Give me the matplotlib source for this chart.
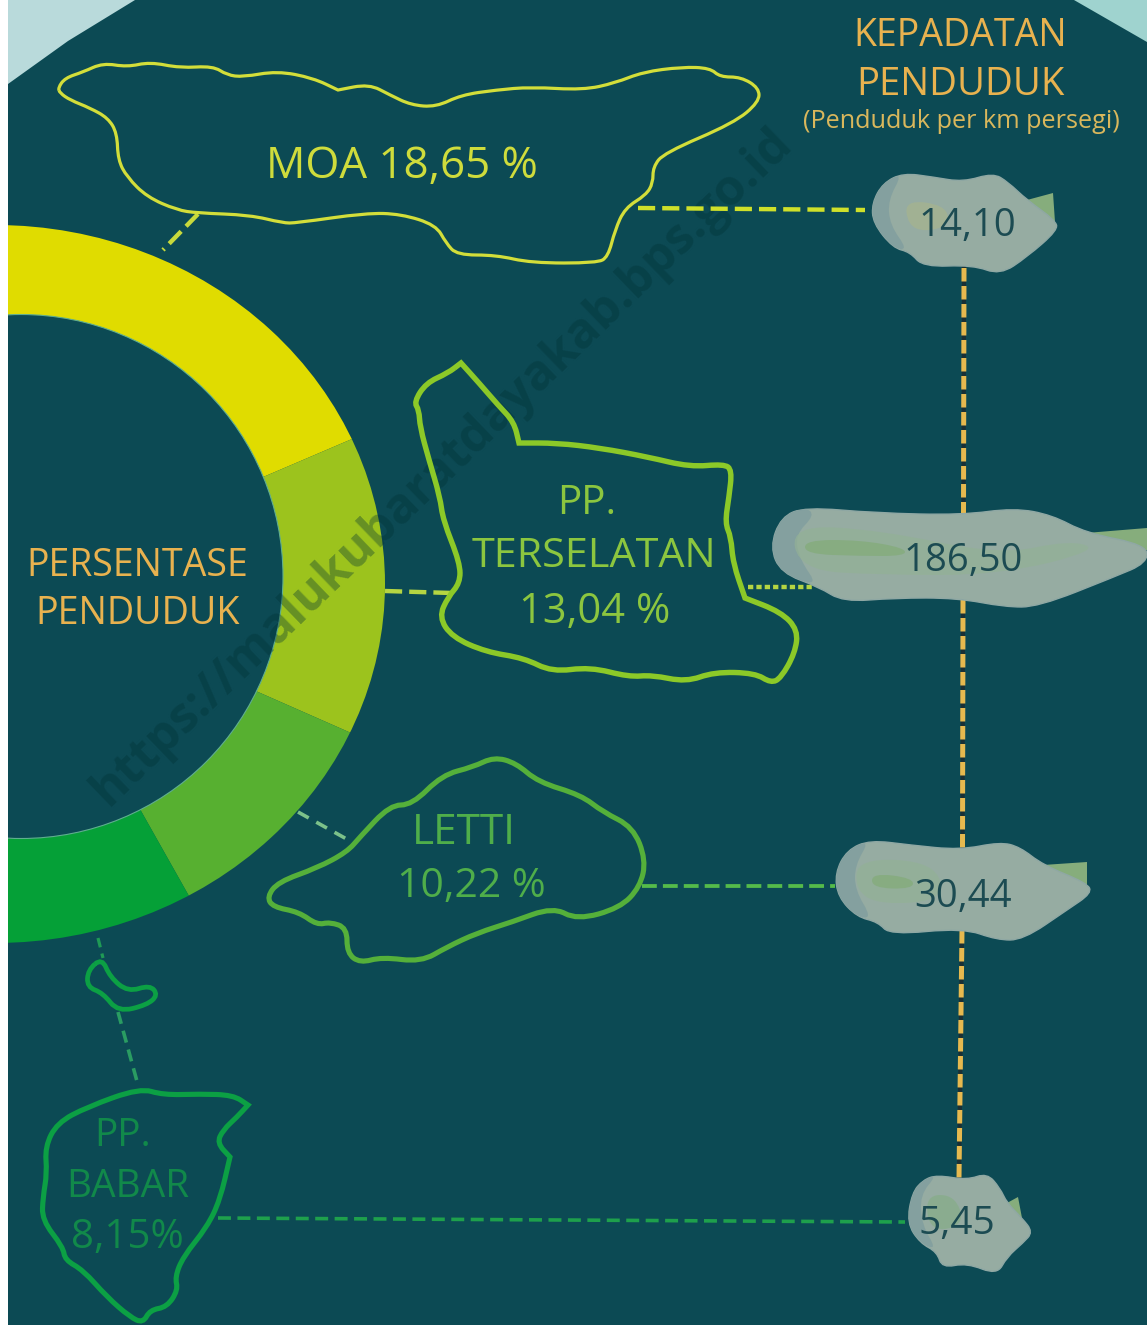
#!/usr/local/bin/python3
# -*- coding: utf-8 -*-
import matplotlib
matplotlib.use('Agg')
import matplotlib.pyplot as plt
from matplotlib.patches import Circle, Ellipse, PathPatch, Polygon, Rectangle, Wedge
from matplotlib.path import Path

plt.rcParams['font.family'] = ['Open Sans', 'DejaVu Sans']

# data
pct_labels = ['MOA', 'PP. TERSELATAN', 'LETTI', 'PP. BABAR']
pct_values = [18.65, 13.04, 10.22, 8.15]
pct_colors = ['#e0dc00', '#9cc31d', '#57b030', '#05a037']
dens_values = ['14,10', '186,50', '30,44', '5,45']

# island outlines, in pixels (repeated point = sharp corner)
moa_xy = [(58, 88), (65, 78), (83, 72), (103, 63), (127, 67), (150, 62), (180, 68), (213, 66), (227, 75), (243, 77),
          (277, 71), (313, 78), (338, 90), (338, 90), (369, 84), (390, 95), (411, 105), (436, 107), (461, 95),
          (496, 90), (531, 87), (583, 90), (615, 83), (643, 72), (682, 67), (710, 68), (720, 77), (741, 77), (759, 88),
          (759, 102), (734, 123), (664, 153), (653, 167), (653, 183), (646, 195), (625, 208), (615, 230), (608, 257),
          (597, 263), (531, 263), (496, 255), (457, 255), (446, 243), (436, 225), (401, 214), (366, 213), (296, 223),
          (283, 223), (250, 215), (197, 213), (177, 210), (147, 197), (127, 177), (118, 160), (117, 133), (108, 118),
          (90, 108), (70, 100), (60, 93)]
terselatan_xy = [(461, 363), (461, 363), (479, 383), (498, 405), (514, 422), (519, 443), (519, 443), (557, 443),
                 (600, 448), (648, 457), (690, 467), (724, 464), (732, 470), (729, 497), (725, 523), (731, 537),
                 (733, 563), (745, 598), (745, 598), (781, 612), (798, 630), (795, 653), (781, 678), (771, 683),
                 (755, 673), (714, 672), (686, 682), (652, 675), (629, 677), (590, 667), (552, 672), (524, 658),
                 (486, 652), (452, 637), (439, 617), (448, 597), (460, 583), (460, 563), (443, 520), (440, 497),
                 (429, 460), (420, 427), (419, 410), (414, 402), (426, 383), (448, 373)]
letti_xy = [(494, 757), (516, 763), (538, 782), (581, 795), (603, 812), (633, 827), (646, 860), (640, 887), (620, 908),
            (577, 920), (553, 907), (512, 922), (477, 933), (447, 947), (421, 962), (382, 957), (360, 963), (347, 953),
            (347, 928), (330, 922), (317, 925), (299, 912), (273, 907), (267, 897), (278, 882), (317, 868), (347, 852),
            (360, 837), (390, 805), (412, 805), (442, 775), (473, 767)]
babar_xy = [(140, 1088), (163, 1095), (200, 1094), (233, 1095), (248, 1105), (248, 1105), (237, 1117), (223, 1130),
            (217, 1143), (230, 1157), (230, 1157), (220, 1200), (207, 1227), (183, 1257), (175, 1277), (178, 1290),
            (167, 1307), (150, 1310), (143, 1323), (130, 1317), (107, 1297), (83, 1270), (65, 1260), (63, 1247),
            (42, 1220), (43, 1197), (47, 1173), (45, 1147), (57, 1123), (87, 1107)]
babar_small_xy = [(102, 958), (110, 977), (128, 992), (150, 985), (158, 995), (147, 1005), (118, 1012), (103, 993),
                  (87, 987), (88, 970)]

# density blobs
blob_moa = [(903, 173), (933, 177), (963, 182), (993, 173), (1008, 182), (1027, 200), (1055, 220), (1058, 230),
            (1027, 257), (1000, 275), (973, 265), (923, 267), (910, 252), (893, 248), (873, 223), (872, 203), (883, 183)]
blob_ters = [(805, 507), (876, 513), (962, 515), (1014, 508), (1052, 515), (1086, 533), (1147, 545), (1147, 563),
             (1114, 577), (1038, 607), (1005, 607), (957, 598), (895, 598), (843, 602), (819, 587), (781, 573),
             (770, 547), (781, 517)]
blob_letti = [(870, 840), (910, 845), (960, 850), (1000, 842), (1020, 847), (1043, 865), (1087, 883), (1092, 893),
              (1067, 910), (1023, 940), (997, 940), (963, 928), (890, 935), (878, 922), (857, 917), (838, 897),
              (835, 873), (847, 850)]
blob_babar = [(937, 1175), (967, 1180), (987, 1173), (1000, 1188), (1007, 1203), (1022, 1218), (1033, 1232),
              (1023, 1243), (1007, 1257), (997, 1275), (967, 1263), (942, 1268), (937, 1252), (920, 1243),
              (907, 1223), (912, 1193), (923, 1180)]
tail_moa = [(1027, 200), (1053, 193), (1055, 222)]
tail_ters = [(1086, 533), (1147, 528), (1147, 550), (1110, 560)]
tail_letti = [(1043, 865), (1087, 862), (1087, 885), (1060, 880)]
tail_babar = [(1007, 1203), (1018, 1197), (1022, 1218)]
left_moa = [(903, 173), (883, 183), (872, 203), (873, 223), (893, 248), (908, 250), (890, 225), (888, 200)]
left_ters = [(805, 507), (781, 517), (770, 547), (781, 573), (819, 587), (800, 560), (795, 535), (815, 515)]
left_letti = [(870, 840), (847, 850), (835, 873), (838, 897), (857, 917), (872, 918), (855, 890), (855, 865)]
left_babar = [(937, 1175), (923, 1180), (912, 1193), (907, 1223), (920, 1243), (937, 1250), (922, 1225), (920, 1195)]
shade_moa = [(905, 200), (945, 205), (950, 225), (925, 232), (908, 225)]
shade_ters = [(805, 540), (860, 540), (905, 548), (905, 556), (860, 556), (805, 554)]
shade_ters_out = [(790, 525), (880, 530), (1000, 555), (1070, 540), (1100, 550), (1000, 575), (880, 575), (800, 570)]
shade_letti = [(872, 873), (913, 878), (913, 889), (872, 888)]
shade_letti_out = [(858, 858), (935, 862), (945, 900), (880, 905), (855, 890)]
shade_babar = [(925, 1195), (955, 1195), (965, 1225), (930, 1232)]

BG = '#0c4a54'
GOLD = '#e8b24f'

fig = plt.figure(figsize=(11.47, 13.25), dpi=100)
ax = fig.add_axes([0, 0, 1, 1])
ax.set_xlim(0, 1147)
ax.set_ylim(1325, 0)
ax.axis('off')
ax.add_patch(Rectangle((0, 0), 1147, 1325, fc=BG, ec='none', zorder=0))

# corners
ax.add_patch(Polygon([(0, 0), (135, 0), (68, 41), (8, 84), (0, 84)], fc='#b9dadb', ec='none', zorder=1))
ax.add_patch(Polygon([(1074, 0), (1147, 0), (1147, 42)], fc='#9fd3cf', ec='none', zorder=1))


def smooth_path(xy):
    """closed quadratic curve through the midpoints of the outline"""
    mid = [((xy[i][0] + xy[(i + 1) % len(xy)][0]) / 2, (xy[i][1] + xy[(i + 1) % len(xy)][1]) / 2)
           for i in range(len(xy))]
    verts = [mid[-1]]
    codes = [Path.MOVETO]
    for i, pt in enumerate(xy):
        verts += [pt, mid[i]]
        codes += [Path.CURVE3, Path.CURVE3]
    return Path(verts, codes)


def draw_ring():
    # ring goes clockwise on screen from the top, y axis is inverted
    outer = Ellipse((-5, 584), 780, 718, fc='none', ec='none', zorder=3)
    ax.add_patch(outer)
    ang = -90.3
    for i, val in enumerate(pct_values):
        ang2 = ang + val * 3.6
        a1 = ang - 8 if i == 0 else ang
        a2 = ang2 + 8 if i == len(pct_values) - 1 else ang2
        wdg = Wedge((13, 584), 440, a1, a2, fc=pct_colors[i], ec='none', zorder=3)
        ax.add_patch(wdg)
        wdg.set_clip_path(outer)
        ang = ang2
    ax.add_patch(Circle((21, 576.5), 262, fc=BG, ec='#5fae8f', lw=0.8, zorder=4))


def draw_link(pts, color, lw=4.4, dash=(3.9, 1.6)):
    xs, ys = zip(*pts)
    ax.plot(xs, ys, color=color, lw=lw * 0.72, dashes=dash, dash_capstyle='butt', zorder=5)


def draw_outline(xy, color, lw):
    ax.add_patch(PathPatch(smooth_path(xy), fc='none', ec=color, lw=lw, zorder=6))


def draw_label(xx, yy, lab, size, color):
    ax.text(xx, yy, lab, ha='center', va='center', fontsize=size, color=color, zorder=9)


def draw_blob(xy, tail, shades, left, label, lab_xy, size):
    ax.add_patch(Polygon(tail, fc='#86ad7c', ec='none', zorder=6))
    ax.add_patch(PathPatch(smooth_path(xy), fc='#96aca2', ec='#8fa8a4', lw=1, zorder=7))
    ax.add_patch(PathPatch(smooth_path(left), fc='#7d9c9e', ec='none', alpha=0.7, zorder=7))
    for sh, col in shades:
        ax.add_patch(PathPatch(smooth_path(sh), fc=col, ec='none', alpha=0.7, zorder=8))
    draw_label(lab_xy[0], lab_xy[1], label, size, '#1c4b52')


draw_ring()

# watermark
ax.text(442, 467, 'https://malukubaratdayakab.bps.go.id', rotation=44, rotation_mode='anchor', ha='center',
        va='center', fontsize=35.5, fontweight='bold', color='#003033', alpha=0.35, zorder=4.5)

# vertical link between density blobs
for seg in ([(964, 268), (963.5, 515)], [(963, 600), (962.5, 848)], [(962, 930), (959, 1178)]):
    xs, ys = zip(*seg)
    ax.plot(xs, ys, color='#1a3035', lw=3.0, zorder=5)
    ax.plot(xs, ys, color='#e6b94f', lw=3.6, dashes=(2.7, 0.9), dash_capstyle='butt', zorder=5)

# links
draw_link([(198, 214), (163, 250)], '#c7d93c')
draw_link([(638, 208), (865, 210)], '#cfe02a')
draw_link([(385, 591), (452, 593)], '#b5d542')
draw_link([(748, 587), (812, 587)], '#b5d542', dash=(1.2, 0.7))
draw_link([(298, 812), (352, 842)], '#7cc18a', lw=3.6, dash=(3.4, 2.4))
draw_link([(642, 886), (835, 886)], '#55bb4a', lw=3.8)
draw_link([(98, 938), (103, 958)], '#1f9a55', lw=3.2, dash=(3, 2))
draw_link([(118, 1012), (138, 1085)], '#2a9c62', lw=3.6, dash=(3.4, 2))
draw_link([(218, 1218), (905, 1222)], '#1ea04c', lw=3.6, dash=(3.6, 1.8))

draw_outline(moa_xy, '#d3de3a', 2.3)
draw_outline(terselatan_xy, '#8cc928', 3.9)
draw_outline(letti_xy, '#55b03a', 3.7)
draw_outline(babar_xy, '#0ca044', 3.7)
draw_outline(babar_small_xy, '#0ca044', 3.4)

# density blobs
draw_blob(blob_moa, tail_moa, [(shade_moa, '#a6b48e')], left_moa, dens_values[0], (967, 226), 27.5)
draw_blob(blob_ters, tail_ters, [(shade_ters_out, '#93b196'), (shade_ters, '#82ab78')], left_ters, dens_values[1],
          (963, 561), 27.5)
draw_blob(blob_letti, tail_letti, [(shade_letti_out, '#93b196'), (shade_letti, '#82ab78')], left_letti, dens_values[2],
          (963, 897), 27.5)
draw_blob(blob_babar, tail_babar, [(shade_babar, '#86ad88')], left_babar, dens_values[3], (957, 1224), 28)

# texts
draw_label(960, 36, 'KEPADATAN', 27, GOLD)
draw_label(960, 85, 'PENDUDUK', 27.5, GOLD)
draw_label(961, 121, '(Penduduk per km persegi)', 18.2, '#d9b75c')
draw_label(137, 566, 'PERSENTASE', 27, GOLD)
draw_label(138, 614, 'PENDUDUK', 27.2, GOLD)
draw_label(402, 167, 'MOA 18,65 %', 31.6, '#cfdc3c')
for lab, yy, xx, sz in zip(['PP.', 'TERSELATAN', '13,04 %'], [504, 557, 612], [587, 594, 595], [29, 29.8, 30]):
    draw_label(xx, yy, lab, sz, '#8cc63f')
for lab, yy, xx, sz in zip(['LETTI', '10,22 %'], [833, 887], [464, 471], [30.5, 29.5]):
    draw_label(xx, yy, lab, sz, '#4fae4a')
for lab, yy, xx, sz in zip(['PP.', 'BABAR', '8,15%'], [1136, 1187, 1238], [123, 128, 127], [28, 28, 29]):
    draw_label(xx, yy, lab, sz, '#11894a')

# white strip on the left
ax.add_patch(Rectangle((0, 0), 8, 1325, fc='white', ec='none', zorder=10))

plt.savefig('out.png', dpi=100)
